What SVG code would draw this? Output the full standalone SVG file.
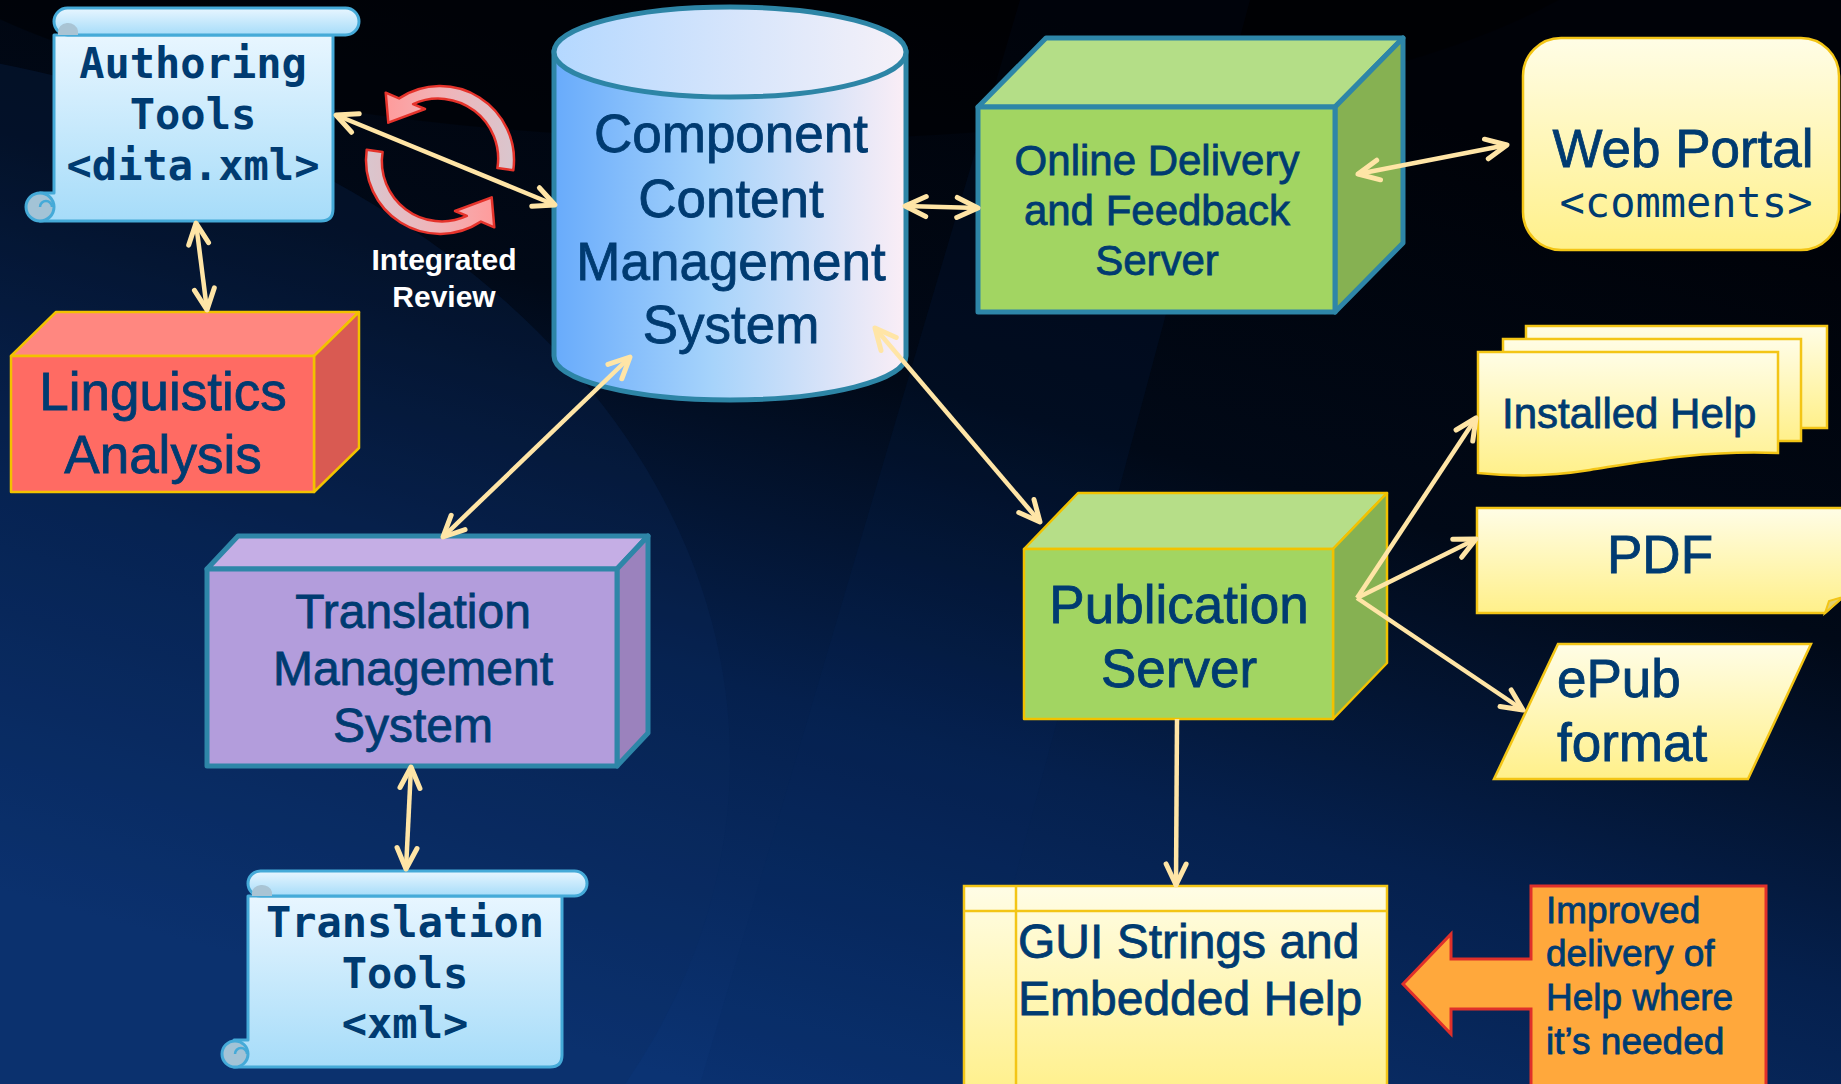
<svg xmlns="http://www.w3.org/2000/svg" width="1841" height="1084" viewBox="0 0 1841 1084">
  <defs>
    <linearGradient id="bg" x1="1000" y1="0" x2="700" y2="1084" gradientUnits="userSpaceOnUse">
      <stop offset="0" stop-color="#000208"/>
      <stop offset="0.35" stop-color="#010917"/>
      <stop offset="0.65" stop-color="#05204d"/>
      <stop offset="1" stop-color="#0b3373"/>
    </linearGradient>
    <linearGradient id="scrollFill" x1="0" y1="0" x2="0" y2="1">
      <stop offset="0" stop-color="#E8F6FF"/>
      <stop offset="1" stop-color="#A6DCF9"/>
    </linearGradient>
    <linearGradient id="cylBody" x1="0" y1="0" x2="1" y2="0">
      <stop offset="0" stop-color="#68ABFB"/>
      <stop offset="0.45" stop-color="#A6D3FB"/>
      <stop offset="1" stop-color="#FBEEF6"/>
    </linearGradient>
    <linearGradient id="cylTop" x1="0" y1="0" x2="1" y2="0">
      <stop offset="0" stop-color="#B4D8FF"/>
      <stop offset="1" stop-color="#F6F1F8"/>
    </linearGradient>
    <linearGradient id="docFill" x1="0" y1="0" x2="0" y2="1">
      <stop offset="0" stop-color="#FFFDE6"/>
      <stop offset="1" stop-color="#FFF08A"/>
    </linearGradient>
    <linearGradient id="cycFill" x1="0" y1="0" x2="1" y2="0">
      <stop offset="0" stop-color="#FF9B9B"/>
      <stop offset="0.45" stop-color="#F0B4B8"/>
      <stop offset="1" stop-color="#D9C6CE"/>
    </linearGradient>
    <marker id="ah" viewBox="-26 -14 30 28" refX="0" refY="0" markerWidth="30" markerHeight="28" markerUnits="userSpaceOnUse" orient="auto-start-reverse">
      <path d="M-21,-10 L0,0 L-21,10" fill="none" stroke="#FFE5A6" stroke-width="5" stroke-linecap="round" stroke-linejoin="round"/>
    </marker>
    <!-- one half of the review cycle, centred on the origin -->
    <path id="cycArrow" d="M-40.9,-61.6 A74,74 0 0 1 73.3,10.3 L57.4,8.1 A60,60 0 0 0 -26.9,-55.9 L-15,-51 L-51.7,-37.3 L-54.3,-67.3 Z"/>
  </defs>
  <style>
    .t { font-family: "Liberation Sans", Arial, sans-serif; fill: #003B71; stroke: #003B71; stroke-width: 0.8; text-anchor: middle; }
    .tl { font-family: "Liberation Sans", Arial, sans-serif; fill: #003B71; stroke: #003B71; stroke-width: 0.8; }
    .mono { font-family: "DejaVu Sans Mono", "Liberation Mono", monospace; font-weight: bold; fill: #003B71; text-anchor: middle; }
    .scroll { fill: url(#scrollFill); stroke: #45AAD8; stroke-width: 3; stroke-linejoin: round; }
    .curl { fill: #A3C3D6; stroke: #45AAD8; stroke-width: 3; }
    .doc { fill: url(#docFill); stroke: #F3C516; stroke-width: 2.5; }
    .edgeTeal { stroke: #2E86A8; stroke-width: 5; stroke-linejoin: round; }
    .edgeGold { stroke: #F2C200; stroke-width: 2.5; stroke-linejoin: round; }
    .conn { fill: none; stroke: #FFE5A6; stroke-width: 4.5; marker-end: url(#ah); }
    .both { marker-start: url(#ah); }
    .cyc { fill: url(#cycFill); stroke: #E5332B; stroke-width: 2.5; stroke-linejoin: round; }
  </style>

  <!-- backdrop -->
  <g id="background">
    <rect width="1841" height="1084" fill="url(#bg)"/>
    <ellipse cx="-250" cy="760" rx="980" ry="720" fill="#0a2a5e" opacity="0.25"/>
    <polygon points="1020,0 1250,0 960,1084 700,1084" fill="#0a2a60" opacity="0.15"/>
    <ellipse cx="760" cy="-120" rx="900" ry="260" fill="#000000" opacity="0.45"/>
  </g>

  <!-- Authoring Tools scroll -->
  <g id="authoring-tools">
    <path class="scroll" d="M54,35 H333 V209 Q333,221 321,221 H40 V193 H54 Z"/>
    <rect class="scroll" x="54" y="8" width="305" height="27" rx="13.5"/>
    <path d="M58,33 A10,9 0 0 1 78,31 L78,35 H58 Z" fill="#A9C4D4"/>
    <circle class="curl" cx="40" cy="207" r="14"/>
    <path d="M40,207 A6,6 0 0 1 52,207" fill="none" stroke="#45AAD8" stroke-width="2.5"/>
    <text class="mono" font-size="42" x="193" y="78">Authoring</text>
    <text class="mono" font-size="42" x="193" y="129">Tools</text>
    <text class="mono" font-size="42" x="193" y="180">&lt;dita.xml&gt;</text>
  </g>

  <!-- Integrated Review cycle -->
  <g id="integrated-review">
    <use href="#cycArrow" class="cyc" transform="translate(440,160)"/>
    <use href="#cycArrow" class="cyc" transform="translate(440,160) rotate(180)"/>
    <text x="444" y="270" font-family="Liberation Sans, Arial, sans-serif" font-weight="bold" font-size="30" fill="#FFFFFF" text-anchor="middle">Integrated</text>
    <text x="444" y="307" font-family="Liberation Sans, Arial, sans-serif" font-weight="bold" font-size="30" fill="#FFFFFF" text-anchor="middle">Review</text>
  </g>

  <!-- Linguistics Analysis box -->
  <g id="linguistics-analysis">
    <polygon class="edgeGold" points="11,356 56,312 359,312 314,356" fill="#FF8780"/>
    <polygon class="edgeGold" points="314,356 359,312 359,448 314,492" fill="#D95A52"/>
    <rect class="edgeGold" x="11" y="356" width="303" height="136" fill="#FF6B63"/>
    <text class="t" font-size="53" x="163" y="410">Linguistics</text>
    <text class="t" font-size="53" x="163" y="473">Analysis</text>
  </g>

  <!-- Component Content Management System cylinder -->
  <g id="ccms">
    <path d="M554,52 V356 A176,44 0 0 0 906,356 V52 Z" fill="url(#cylBody)" stroke="#2D85A6" stroke-width="5"/>
    <ellipse cx="730" cy="52" rx="176" ry="45" fill="url(#cylTop)" stroke="#2D85A6" stroke-width="5"/>
    <text class="t" font-size="53" x="731" y="152">Component</text>
    <text class="t" font-size="53" x="731" y="217">Content</text>
    <text class="t" font-size="53" x="731" y="280">Management</text>
    <text class="t" font-size="53" x="731" y="343">System</text>
  </g>

  <!-- Online Delivery and Feedback Server box -->
  <g id="online-delivery">
    <polygon class="edgeTeal" points="978,107 1046,38 1403,38 1335,107" fill="#B4DE87"/>
    <polygon class="edgeTeal" points="1335,107 1403,38 1403,243 1335,312" fill="#86B152"/>
    <rect class="edgeTeal" x="978" y="107" width="357" height="205" fill="#A2D562"/>
    <text class="t" font-size="42" x="1157" y="175">Online Delivery</text>
    <text class="t" font-size="42" x="1157" y="225">and Feedback</text>
    <text class="t" font-size="42" x="1157" y="275">Server</text>
  </g>

  <!-- Web Portal -->
  <g id="web-portal">
    <rect class="doc" x="1523" y="38" width="316" height="212" rx="38"/>
    <text class="t" font-size="53" x="1683" y="167">Web Portal</text>
    <text x="1686" y="217" font-family="DejaVu Sans Mono, Liberation Mono, monospace" font-size="42" fill="#003B71" text-anchor="middle">&lt;comments&gt;</text>
  </g>

  <!-- Installed Help stacked documents -->
  <g id="installed-help">
    <rect class="doc" x="1526" y="326" width="301" height="102"/>
    <rect class="doc" x="1503" y="339" width="298" height="102"/>
    <path class="doc" d="M1478,352 H1778 V453 C1700,450 1640,462 1590,470 C1540,478 1505,476 1478,473 Z"/>
    <text class="tl" font-size="42" x="1502" y="428">Installed Help</text>
  </g>

  <!-- PDF -->
  <g id="pdf">
    <path class="doc" d="M1477,508 H1843 V597 L1825,613 H1477 Z"/>
    <path d="M1825,613 L1829,601 L1843,597 Z" fill="#E2CF6E" stroke="#F3C516" stroke-width="2"/>
    <text class="t" font-size="53" x="1660" y="573">PDF</text>
  </g>

  <!-- ePub format -->
  <g id="epub">
    <polygon class="doc" points="1558,644 1811,644 1748,779 1494,779"/>
    <text class="tl" font-size="53" x="1557" y="697">ePub</text>
    <text class="tl" font-size="53" x="1557" y="761">format</text>
  </g>

  <!-- Publication Server box -->
  <g id="publication-server">
    <polygon class="edgeGold" points="1024,549 1078,493 1387,493 1333,549" fill="#B6DE88"/>
    <polygon class="edgeGold" points="1333,549 1387,493 1387,663 1333,719" fill="#86B152"/>
    <rect class="edgeGold" x="1024" y="549" width="309" height="170" fill="#A2D562"/>
    <text class="t" font-size="53" x="1179" y="623">Publication</text>
    <text class="t" font-size="53" x="1179" y="687">Server</text>
  </g>

  <!-- Translation Management System box -->
  <g id="translation-management">
    <polygon class="edgeTeal" points="207,569 238,536 648,536 617,569" fill="#C5AEE5"/>
    <polygon class="edgeTeal" points="617,569 648,536 648,733 617,766" fill="#9B82BD"/>
    <rect class="edgeTeal" x="207" y="569" width="410" height="197" fill="#B39DDC"/>
    <text class="t" font-size="48" x="413" y="628">Translation</text>
    <text class="t" font-size="48" x="413" y="685">Management</text>
    <text class="t" font-size="48" x="413" y="742">System</text>
  </g>

  <!-- Translation Tools scroll -->
  <g id="translation-tools">
    <path class="scroll" d="M248,896 H562 V1055 Q562,1067 550,1067 H234 V1040 H248 Z"/>
    <rect class="scroll" x="248" y="871" width="339" height="25" rx="12.5"/>
    <path d="M252,894 A10,8 0 0 1 272,892 L272,896 H252 Z" fill="#A9C4D4"/>
    <circle class="curl" cx="235" cy="1054" r="13"/>
    <path d="M235,1054 A6,6 0 0 1 247,1054" fill="none" stroke="#45AAD8" stroke-width="2.5"/>
    <text class="mono" font-size="42" x="405" y="937">Translation</text>
    <text class="mono" font-size="42" x="405" y="988">Tools</text>
    <text class="mono" font-size="42" x="405" y="1038">&lt;xml&gt;</text>
  </g>

  <!-- GUI Strings and Embedded Help -->
  <g id="gui-strings">
    <rect class="doc" x="964" y="886" width="423" height="210"/>
    <line x1="1016" y1="886" x2="1016" y2="1090" stroke="#F3C516" stroke-width="2.5"/>
    <line x1="964" y1="911" x2="1387" y2="911" stroke="#F3C516" stroke-width="2.5"/>
    <text class="tl" font-size="48" x="1018" y="958">GUI Strings and</text>
    <text class="tl" font-size="48" x="1018" y="1015">Embedded Help</text>
  </g>

  <!-- Improved delivery callout -->
  <g id="improved-delivery">
    <path d="M1531,886 H1766 V1095 H1531 V1009 H1451 V1034 L1403,984 L1451,934 V959 H1531 Z" fill="#FFA83C" stroke="#E0302A" stroke-width="3" stroke-linejoin="miter"/>
    <text class="tl" font-size="37" x="1546" y="923">Improved</text>
    <text class="tl" font-size="37" x="1546" y="966">delivery of</text>
    <text class="tl" font-size="37" x="1546" y="1010">Help where</text>
    <text class="tl" font-size="37" x="1546" y="1054">it’s needed</text>
  </g>

  <!-- connectors -->
  <g id="connectors">
    <line class="conn both" x1="336" y1="115" x2="555" y2="205"/>
    <line class="conn both" x1="196" y1="223" x2="207" y2="310"/>
    <line class="conn both" x1="905" y1="206" x2="978" y2="208"/>
    <line class="conn both" x1="1358" y1="174" x2="1507" y2="145"/>
    <line class="conn both" x1="630" y1="357" x2="443" y2="537"/>
    <line class="conn both" x1="875" y1="328" x2="1040" y2="522"/>
    <line class="conn both" x1="411" y1="767" x2="406" y2="869"/>
    <line class="conn" x1="1357" y1="598" x2="1476" y2="418"/>
    <line class="conn" x1="1357" y1="598" x2="1476" y2="539"/>
    <line class="conn" x1="1357" y1="598" x2="1523" y2="710"/>
    <line class="conn" x1="1177" y1="719" x2="1176" y2="885"/>
  </g>
</svg>
